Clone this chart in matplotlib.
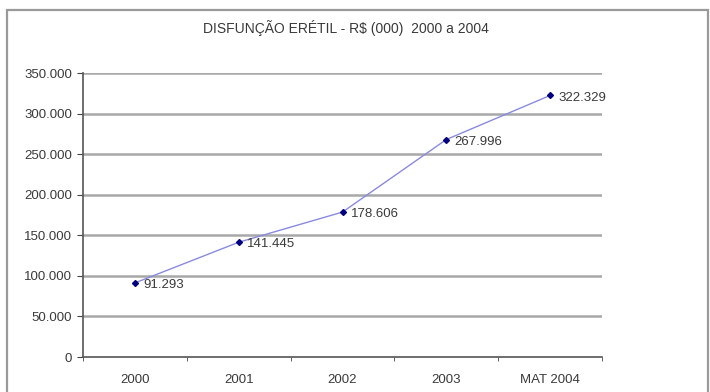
import numpy as np
import matplotlib.pyplot as plt
from matplotlib.patches import Rectangle

plt.rcParams['font.family'] = ['Liberation Sans', 'DejaVu Sans']

categories = ["2000", "2001", "2002", "2003", "MAT 2004"]
values = [91293, 141445, 178606, 267996, 322329]
y_ticks = [0, 50000, 100000, 150000, 200000, 250000, 300000, 350000]


def fmt(v):
    return f"{v:,}".replace(",", ".")


fig = plt.figure(figsize=(7.1, 3.92), dpi=100)
fig.patch.set_facecolor("white")

# moldura externa do gráfico
fig.patches.append(Rectangle((7 / 710, -0.05), 701 / 710, 1.05 - 10 / 392,
                             transform=fig.transFigure, fill=False,
                             edgecolor="#9a9a9a", linewidth=1.6))

ax = fig.add_axes([83 / 710, 35 / 392, 519 / 710, 284 / 392])
x = np.arange(len(categories))

for t in y_ticks[1:]:
    ax.axhline(t, color="#a8a8a8", linewidth=1.8, zorder=1)

ax.plot(x, values, color="#8a8ae0", linewidth=1.0, zorder=3)
ax.plot(x, values, linestyle="none", marker="D", markersize=3.0,
        color="#000080", zorder=4)

for xi, v in zip(x, values):
    ax.annotate(fmt(v), (xi, v), xytext=(6, -1.5), textcoords="offset points",
                ha="left", va="center", fontsize=9.5, color="#3a3a3a")

ax.set_xlim(-0.5, len(categories) - 0.5)
ax.set_ylim(0, 350000)
ax.set_yticks(y_ticks)
ax.set_yticklabels([fmt(t) for t in y_ticks], fontsize=9.5, color="#3a3a3a")
ax.set_xticks(x)
ax.set_xticklabels(categories, fontsize=9.5, color="#3a3a3a")
ax.set_xticks(np.arange(-0.5, len(categories)), minor=True)
ax.tick_params(axis="x", which="major", length=0, pad=12)
ax.tick_params(axis="x", which="minor", length=3, color="#444444")
ax.tick_params(axis="y", length=4, color="#444444", pad=4)

for side in ["top", "right"]:
    ax.spines[side].set_visible(False)
for side in ["left", "bottom"]:
    ax.spines[side].set_color("#555555")
    ax.spines[side].set_linewidth(1.2)

fig.text(346 / 710, 1 - 28 / 392, "DISFUNÇÃO ERÉTIL - R$ (000)  2000 a 2004",
         ha="center", va="center", fontsize=10, color="#3a3a3a")

fig.savefig("out.png", dpi=100)
